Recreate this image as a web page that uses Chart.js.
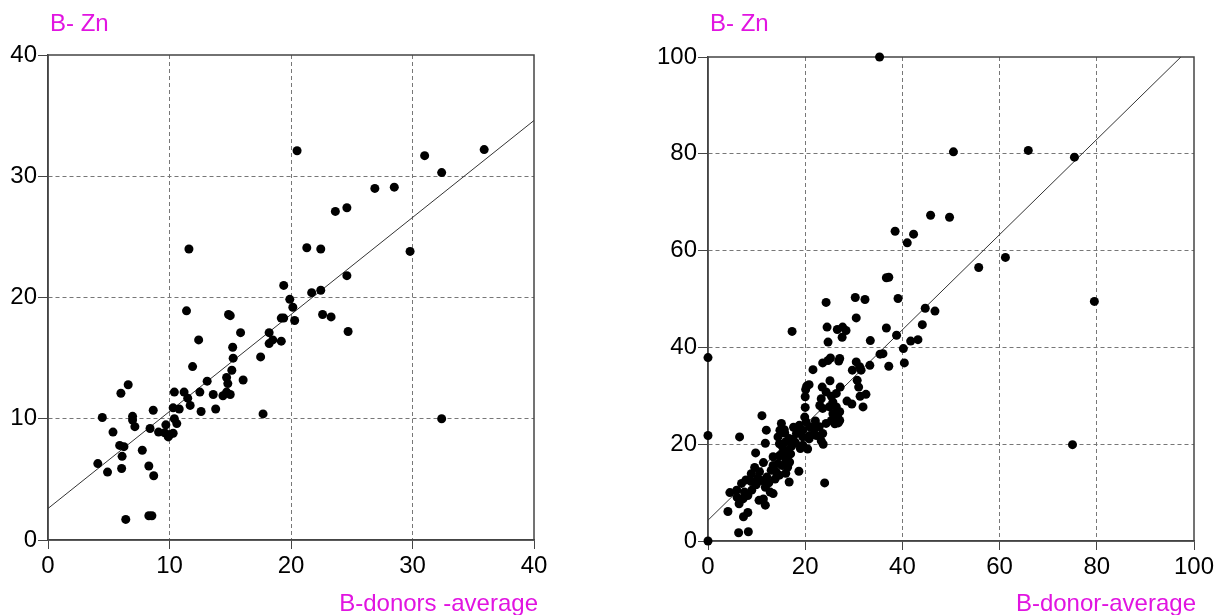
<!DOCTYPE html>
<html>
<head>
<meta charset="utf-8">
<script src="https://cdn.jsdelivr.net/npm/chart.js@4/dist/chart.umd.min.js"></script>
<style>
body{margin:0;background:#fff;}
#wrap{position:relative;width:1218px;height:615px;overflow:hidden;}
#wrap canvas{position:absolute;left:0;top:0;}
.ttl{position:absolute;font-family:"Liberation Sans",Arial,sans-serif;font-size:24px;line-height:24px;color:rgb(225,20,225);white-space:nowrap;}
</style>
</head>
<body>
<div id="wrap">
  <canvas id="leftchart" width="1218" height="615"></canvas>
  <canvas id="rightchart" width="1218" height="615"></canvas>
  <div class="ttl" style="left:50px;top:11px;">B- Zn</div>
  <div class="ttl" style="left:710px;top:11px;">B- Zn</div>
  <div class="ttl" style="right:680px;top:591px;">B-donors -average</div>
  <div class="ttl" style="right:22px;top:591px;">B-donor-average</div>
</div>
<script>
// left panel: B-donors -average vs B- Zn
var leftX = [11.6,19.4,20.5,31.0,35.9,32.4,26.9,28.5,23.65,24.6,21.3,22.45,29.8,24.6,21.7,22.45,19.9,20.15,20.3,22.6,23.3,24.7,32.4,
  19.2,19.4,19.2,18.2,18.2,18.5,17.5,17.7,15.85,16.06,14.86,15.0,15.2,15.24,15.13,14.7,14.8,14.7,15.0,14.4,13.6,13.8,13.1,12.5,12.6,12.4,11.9,11.4,
  11.2,11.5,11.7,10.4,10.3,10.8,10.4,10.6,10.3,10.03,9.7,9.6,9.9,9.1,8.66,8.4,7.76,8.3,8.7,8.3,8.55,6.4,7.15,6.96,6.96,6.6,6.0,5.9,6.25,6.1,6.06,5.35,4.47,4.1,4.9];
var leftY = [24.0,21.0,32.1,31.7,32.2,30.3,29.0,29.1,27.1,27.4,24.1,24.0,23.8,21.8,20.4,20.6,19.85,19.2,18.1,18.6,18.4,17.2,10.0,
  18.3,18.3,16.4,17.1,16.2,16.5,15.1,10.4,17.1,13.2,18.6,18.5,15.9,15.0,14.0,13.4,12.9,12.2,12.0,11.9,12.0,10.8,13.1,12.2,10.6,16.5,14.3,18.9,
  12.2,11.7,11.1,12.2,10.9,10.8,10.0,9.6,8.8,8.7,9.5,8.85,8.5,8.9,10.7,9.2,7.4,6.1,5.3,2.0,2.0,1.7,9.35,9.9,10.2,12.8,12.1,7.8,7.7,6.9,5.9,8.9,10.1,6.3,5.6];
var leftFitX = [0,40];
var leftFitY = [2.6,34.6];
var leftTicks = [0,10,20,30,40];

// right panel: B-donor-average vs B- Zn
var rightX = [0,0,0,35.3,50.5,65.9,75.4,79.5,75.0,61.2,55.7,
  45.8,49.7,38.5,42.3,41.0,36.7,37.2,30.3,32.3,39.1,24.3,44.7,46.7,30.5,
  17.3,26.6,27.7,28.4,27.6,24.5,36.7,44.1,38.8,33.4,41.7,43.2,24.7,40.2,35.4,36.0,
  27.1,30.5,40.4,37.2,33.3,21.6,23.6,24.7,25.2,26.9,31.2,29.7,31.5,30.7,31.0,32.5,31.3,31.9,28.6,29.6,
  27.2,25.1,23.5,20.1,20.3,20.8,20.0,20.0,23.3,24.3,25.4,26.4,25.7,23.0,23.6,25.0,26.4,27.1,25.7,26.7,25.4,26.1,27.1,26.8,
  19.9,20.2,18.8,18.2,19.5,20.9,21.9,22.9,23.6,22.3,20.9,19.5,18.2,24.3,23.3,23.7,19.5,20.5,19.0,20.8,21.7,22.1,
  24.0,18.7,15.1,14.4,14.7,15.3,16.0,16.7,16.4,15.3,14.7,16.0,14.4,15.3,16.4,16.0,16.7,14.7,14.0,13.4,17.0,16.8,
  12.0,11.1,11.8,9.8,11.4,13.4,13.0,12.1,11.0,9.9,8.9,9.6,10.6,11.8,12.8,13.4,11.4,10.5,11.8,
  6.5,6.9,5.9,4.5,7.5,8.2,7.2,6.4,4.1,8.2,7.3,6.3,8.3,8.9,9.9,12.5,13.8,10.2,7.8,6.0,9.0,
  17.5,18.0,17.2,15.8,16.3,17.6,14.8,15.7];
var rightY = [37.9,21.8,0,100,80.4,80.7,79.3,49.5,19.9,58.6,56.5,
  67.3,66.9,64.0,63.4,61.6,54.4,54.5,50.3,49.9,50.1,49.3,48.1,47.5,46.1,
  43.3,43.7,44.2,43.5,42.1,44.2,44.0,44.7,42.5,41.4,41.3,41.6,41.1,39.75,38.6,38.7,
  37.7,37.0,36.8,36.1,36.3,35.4,36.8,37.3,37.8,37.2,36.0,35.3,35.3,33.2,31.8,30.3,29.9,27.7,28.9,28.3,
  31.8,33.1,31.8,31.3,32.0,32.3,29.8,27.6,29.4,30.8,29.9,30.5,28.7,28.0,27.4,27.7,27.7,26.7,26.3,25.6,24.9,24.2,24.9,24.4,
  25.6,24.6,23.9,23.2,22.9,23.6,23.2,23.6,22.2,21.8,21.8,21.5,22.2,24.3,20.7,20.0,19.8,19.0,19.1,21.1,22.0,24.8,
  12.0,14.4,24.3,21.5,20.1,19.5,20.5,21.2,18.7,18.1,17.6,16.9,16.0,15.6,15.3,14.0,12.2,13.6,14.3,15.6,18.0,16.3,
  22.9,25.9,20.2,18.2,16.2,17.4,14.6,13.2,12.5,11.8,13.9,15.2,14.3,11.1,10.1,9.8,8.7,8.4,7.4,
  21.5,11.9,10.5,10.0,10.1,9.4,8.7,7.7,6.1,5.9,5.0,1.7,1.9,12.3,11.6,12.0,12.8,13.0,12.6,9.0,10.5,
  21.0,20.3,19.6,22.3,17.7,23.5,22.9,23.0];
var rightFitX = [0,97.3];
var rightFitY = [4.3,100];
var rightTicks = [0,20,40,60,80,100];

function pts(xs, ys){
    var out = [];
    for (var i = 0; i < xs.length; i++) out.push({x: xs[i], y: ys[i]});
    return out;
}

// full box round the plot area
var boxPlugin = {
    id: 'box',
    beforeDatasetsDraw: function(chart){
        var a = chart.chartArea, c = chart.ctx;
        c.save();
        c.strokeStyle = '#444';
        c.lineWidth = 1.5;
        c.strokeRect(a.left, a.top, a.right - a.left, a.bottom - a.top);
        c.restore();
    }
};

function makeChart(id, xs, ys, fx, fy, ticks, pad, yw, xh){
    var lo = ticks[0], hi = ticks[ticks.length - 1];
    var font = {family: '"Liberation Sans", Arial, sans-serif', size: 24};
    function axis(isY){
        return {
            type: 'linear',
            min: lo, max: hi,
            afterBuildTicks: function(s){ s.ticks = ticks.map(function(v){ return {value: v}; }); },
            afterFit: function(s){ if (isY) s.width = yw; else s.height = xh; },
            grid: {
                color: function(c){ return (c.tick && (c.tick.value === lo || c.tick.value === hi)) ? 'rgba(0,0,0,0)' : '#777'; },
                tickColor: '#444',
                tickLength: isY ? 10 : 9,
                lineWidth: 1
            },
            border: {color: '#444', width: 1.5, dash: [4, 3]},
            ticks: {color: '#000', font: font, padding: isY ? 1 : 3, maxRotation: 0}
        };
    }
    return new Chart(document.getElementById(id).getContext('2d'), {
        type: 'scatter',
        data: {
            datasets: [{
                data: pts(xs, ys),
                backgroundColor: '#000',
                borderColor: '#000',
                pointRadius: 4.5,
                pointBorderWidth: 0,
                clip: false
            },{
                data: pts(fx, fy),
                showLine: true,
                borderColor: '#333',
                borderWidth: 1,
                pointRadius: 0
            }]
        },
        options: {
            responsive: false,
            animation: false,
            events: [],
            layout: {padding: pad},
            plugins: {legend: {display: false}, tooltip: {enabled: false}},
            scales: {x: axis(false), y: axis(true)}
        },
        plugins: [boxPlugin]
    });
}

var leftchart = makeChart('leftchart', leftX, leftY, leftFitX, leftFitY, leftTicks,
    {left: 0, top: 55, right: 1218 - 534, bottom: 0}, 48, 75);
var rightchart = makeChart('rightchart', rightX, rightY, rightFitX, rightFitY, rightTicks,
    {left: 648, top: 57, right: 1218 - 1194, bottom: 0}, 60, 74);
</script>
</body>
</html>
